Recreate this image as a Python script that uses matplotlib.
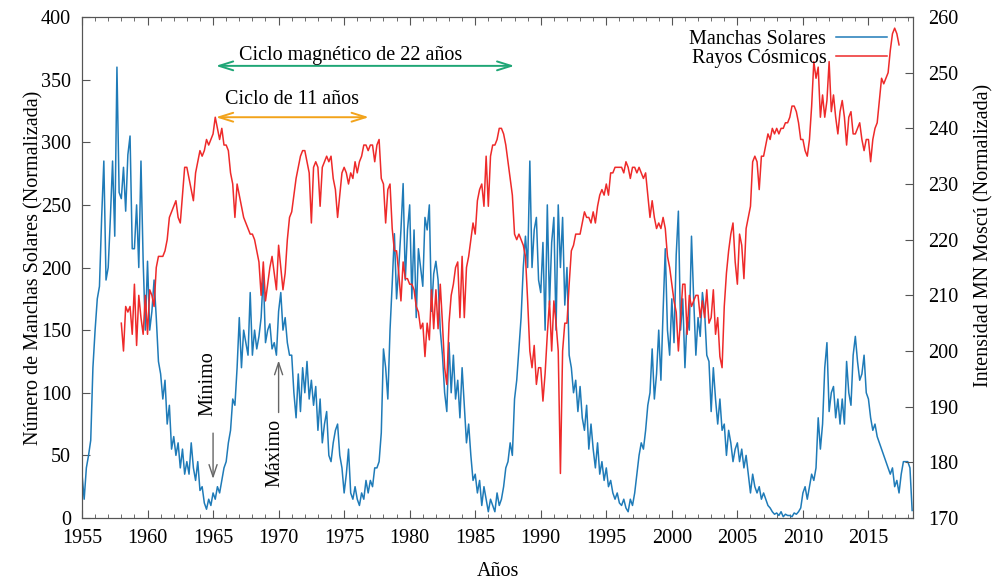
import numpy as np
import matplotlib.pyplot as plt
from matplotlib.ticker import MultipleLocator

plt.rcParams['font.family'] = ['Liberation Serif', 'DejaVu Serif']
plt.rcParams['font.size'] = 14.5

# numero de manchas solares, una muestra cada dos meses desde 1955.0
manchas = [
    35, 15, 40, 50, 62, 120,      # 1955
    150, 175, 185, 240, 285, 190,  # 1956
    200, 240, 285, 225, 360, 260,  # 1957
    255, 280, 245, 290, 305, 215,  # 1958
    215, 250, 200, 285, 205, 150,  # 1959
    205, 150, 165, 190, 160, 125,  # 1960
    115, 95, 110, 75, 90, 55,      # 1961
    65, 50, 60, 40, 55, 35,        # 1962
    45, 35, 60, 40, 30, 45,        # 1963
    22, 25, 12, 7, 15, 10,         # 1964
    20, 15, 25, 20, 30, 40,        # 1965
    45, 60, 70, 95, 90, 120,       # 1966
    160, 120, 150, 140, 130, 180,  # 1967
    130, 150, 135, 145, 160, 195,  # 1968
    140, 150, 155, 135, 140, 130,  # 1969
    165, 180, 150, 160, 140, 130,  # 1970
    130, 100, 80, 115, 85, 120,    # 1971
    100, 125, 95, 110, 90, 105,    # 1972
    70, 95, 60, 75, 85, 50,        # 1973
    45, 60, 70, 75, 50, 40,        # 1974
    20, 35, 55, 20, 15, 25,        # 1975
    15, 10, 20, 15, 30, 20,        # 1976
    30, 25, 40, 40, 45, 68,        # 1977
    135, 120, 95, 150, 187, 227,   # 1978
    175, 200, 230, 267, 190, 230,  # 1979
    250, 175, 230, 160, 215, 200,  # 1980
    185, 240, 230, 250, 165, 195,  # 1981
    205, 190, 150, 130, 100, 85,   # 1982
    140, 100, 130, 95, 110, 80,    # 1983
    120, 90, 60, 75, 50, 30,       # 1984
    35, 20, 30, 10, 25, 15,        # 1985
    5, 15, 10, 5, 20, 10,          # 1986
    15, 25, 40, 45, 60, 50,        # 1987
    95, 110, 135, 160, 200, 225,   # 1988
    200, 285, 200, 230, 240, 190,  # 1989
    180, 220, 150, 250, 170, 220,  # 1990
    240, 150, 250, 200, 240, 170,  # 1991
    200, 130, 120, 100, 110, 85,   # 1992
    105, 80, 70, 90, 55, 75,       # 1993
    55, 40, 60, 35, 45, 30,        # 1994
    40, 25, 30, 20, 15, 20,        # 1995
    12, 10, 15, 8, 5, 15,          # 1996
    10, 20, 35, 50, 60, 55,        # 1997
    70, 90, 100, 135, 95, 115,     # 1998
    150, 110, 165, 215, 150, 130,  # 1999
    175, 140, 210, 245, 150, 175,  # 2000
    120, 160, 150, 225, 175, 130,  # 2001
    160, 145, 180, 165, 130, 125,  # 2002
    85, 120, 95, 75, 95, 70,       # 2003
    75, 50, 70, 60, 45, 55,        # 2004
    60, 45, 55, 40, 50, 35,        # 2005
    20, 35, 25, 20, 25, 15,        # 2006
    20, 15, 10, 8, 5, 3,           # 2007
    4, 2, 5, 1, 3, 2,              # 2008
    2, 1, 4, 3, 5, 8,              # 2009
    20, 25, 15, 25, 35, 30,        # 2010
    40, 80, 55, 75, 120, 140,      # 2011
    85, 100, 105, 80, 95, 75,      # 2012
    95, 75, 125, 100, 90, 130,     # 2013
    145, 125, 110, 115, 130, 100,  # 2014
    95, 80, 70, 75, 65, 60,        # 2015
    55, 50, 45, 40, 35, 40,        # 2016
    25, 30, 20, 35, 45, 45,        # 2017
    45, 40, 6,                     # 2018
]

# intensidad del monitor de neutrones de Moscu, desde 1958.0
rayos = [
    205, 200, 208, 207, 208, 203,  # 1958
    212, 201, 210, 206, 203, 210,  # 1959
    203, 211, 210, 208, 215, 217,  # 1960
    217, 217, 218, 220, 224, 225,  # 1961
    226, 227, 224, 223, 228, 233,  # 1962
    233, 231, 229, 227, 232, 234,  # 1963
    236, 235, 236, 238, 237, 238,  # 1964
    239, 242, 240, 238, 240, 237,  # 1965
    237, 236, 232, 230, 224, 230,  # 1966
    228, 226, 224, 223, 222, 221,  # 1967
    221, 220, 218, 216, 210, 216,  # 1968
    209, 212, 215, 217, 214, 211,  # 1969
    219, 215, 211, 214, 220, 224,  # 1970
    225, 228, 231, 233, 235, 236,  # 1971
    236, 234, 232, 223, 233, 234,  # 1972
    233, 226, 233, 234, 235, 234,  # 1973
    235, 231, 229, 224, 228, 232,  # 1974
    233, 232, 230, 232, 231, 234,  # 1975
    232, 234, 235, 237, 237, 236,  # 1976
    237, 237, 234, 237, 238, 231,  # 1977
    230, 223, 229, 230, 222, 218,  # 1978
    218, 214, 209, 216, 213, 213,  # 1979
    212, 212, 211, 208, 207, 204,  # 1980
    205, 199, 205, 202, 211, 204,  # 1981
    211, 204, 212, 205, 197, 194,  # 1982
    205, 210, 212, 215, 216, 206,  # 1983
    217, 206, 215, 217, 220, 223,  # 1984
    221, 227, 229, 230, 226, 235,  # 1985
    226, 235, 237, 237, 238, 240,  # 1986
    240, 239, 237, 234, 231, 228,  # 1987
    221, 220, 221, 220, 219, 217,  # 1988
    209, 200, 197, 201, 194, 197,  # 1989
    197, 191, 196, 203, 209, 200,  # 1990
    209, 205, 200, 178, 200, 205,  # 1991
    205, 212, 218, 219, 221, 221,  # 1992
    221, 223, 225, 224, 224, 223,  # 1993
    225, 223, 226, 228, 229, 228,  # 1994
    230, 228, 232, 232, 233, 233,  # 1995
    233, 233, 232, 234, 233, 231,  # 1996
    233, 233, 232, 233, 232, 231,  # 1997
    232, 228, 224, 227, 224, 222,  # 1998
    223, 222, 224, 222, 217, 215,  # 1999
    212, 209, 207, 200, 206, 212,  # 2000
    212, 203, 210, 208, 209, 210,  # 2001
    210, 206, 209, 206, 211, 205,  # 2002
    206, 211, 203, 206, 199, 197,  # 2003
    208, 214, 218, 221, 223, 216,  # 2004
    212, 221, 219, 213, 222, 224,  # 2005
    226, 234, 235, 234, 229, 235,  # 2006
    235, 237, 239, 238, 240, 239,  # 2007
    240, 239, 240, 240, 241, 241,  # 2008
    242, 244, 244, 243, 241, 238,  # 2009
    238, 236, 235, 238, 244, 252,  # 2010
    249, 251, 242, 246, 242, 245,  # 2011
    252, 243, 246, 242, 239, 243,  # 2012
    245, 242, 237, 242, 243, 239,  # 2013
    239, 240, 241, 238, 236, 238,  # 2014
    238, 234, 238, 240, 241, 245,  # 2015
    249, 248, 249, 250, 254, 257,  # 2016
    258, 257, 255,                 # 2017
]

t_manchas = 1955 + np.arange(len(manchas)) / 6
t_rayos = 1958 + np.arange(len(rayos)) / 6

azul = '#1f7bb8'
rojo = '#ee2a2a'
gris = '#555555'

fig = plt.figure(figsize=(9.95, 5.83), dpi=100)
ax = fig.add_axes([0.0824, 0.1115, 0.8352, 0.8593])
ax2 = ax.twinx()

l1, = ax.plot(t_manchas, manchas, color=azul, lw=1.1, label='Manchas Solares')
l2, = ax2.plot(t_rayos, rayos, color=rojo, lw=1.1, label='Rayos Cósmicos')

ax.set_xlim(1955, 2018.4)
ax.set_ylim(0, 400)
ax2.set_ylim(170, 260)

ax.xaxis.set_major_locator(MultipleLocator(5))
ax.xaxis.set_minor_locator(MultipleLocator(1))
ax.yaxis.set_major_locator(MultipleLocator(50))
ax2.yaxis.set_major_locator(MultipleLocator(10))

ax.tick_params(axis='x', which='both', direction='in', top=True, color=gris, pad=8)
ax.tick_params(axis='x', which='major', length=6)
ax.tick_params(axis='x', which='minor', length=3)
ax.tick_params(axis='y', direction='in', length=6, color=gris, right=False, pad=8)
ax2.tick_params(axis='y', direction='in', length=6, color=gris, pad=11)
for a in (ax, ax2):
    for s in a.spines.values():
        s.set_color(gris)

ax.set_xlabel('Años', labelpad=10)
ax.set_ylabel('Número de Manchas Solares (Normalizada)')
ax2.set_ylabel('Intensidad MN Moscú (Normalizada)')
ax.yaxis.set_label_coords(-0.046, 0.5)
ax2.yaxis.set_label_coords(1.074, 0.565)

# ciclos de 22 y 11 años
verde = '#1fa676'
naranja = '#f2a31b'
ax.annotate('', xy=(1965, 361), xytext=(1988.2, 361),
            arrowprops=dict(arrowstyle='<->,head_length=0.7,head_width=0.22',
                            color=verde, lw=1.4))
ax.text(1967.0, 369, 'Ciclo magnético de 22 años', ha='left', va='center')
ax.annotate('', xy=(1965, 320), xytext=(1977.1, 320),
            arrowprops=dict(arrowstyle='<->,head_length=0.7,head_width=0.22',
                            color=naranja, lw=1.4))
ax.text(1965.9, 334, 'Ciclo de 11 años', ha='left', va='center')

# minimo y maximo del ciclo
ax.annotate('', xy=(1965, 29), xytext=(1965, 70),
            arrowprops=dict(arrowstyle='->,head_length=0.6,head_width=0.2',
                            color='#666666', lw=1.0))
ax.text(1964.6, 107, 'Mínimo', rotation=90, ha='center', va='center')
ax.annotate('', xy=(1970.0, 128), xytext=(1970.0, 82),
            arrowprops=dict(arrowstyle='->,head_length=0.6,head_width=0.2',
                            color='#666666', lw=1.0))
ax.text(1969.7, 52, 'Máximo', rotation=90, ha='center', va='center')

ax2.legend([l1, l2], ['Manchas Solares', 'Rayos Cósmicos'], loc='upper right',
           bbox_to_anchor=(0.978, 0.99), frameon=False, markerfirst=False,
           handlelength=2.5, handletextpad=0.5, labelspacing=0.0,
           borderaxespad=0.0)

fig.savefig('out.png', dpi=100)
